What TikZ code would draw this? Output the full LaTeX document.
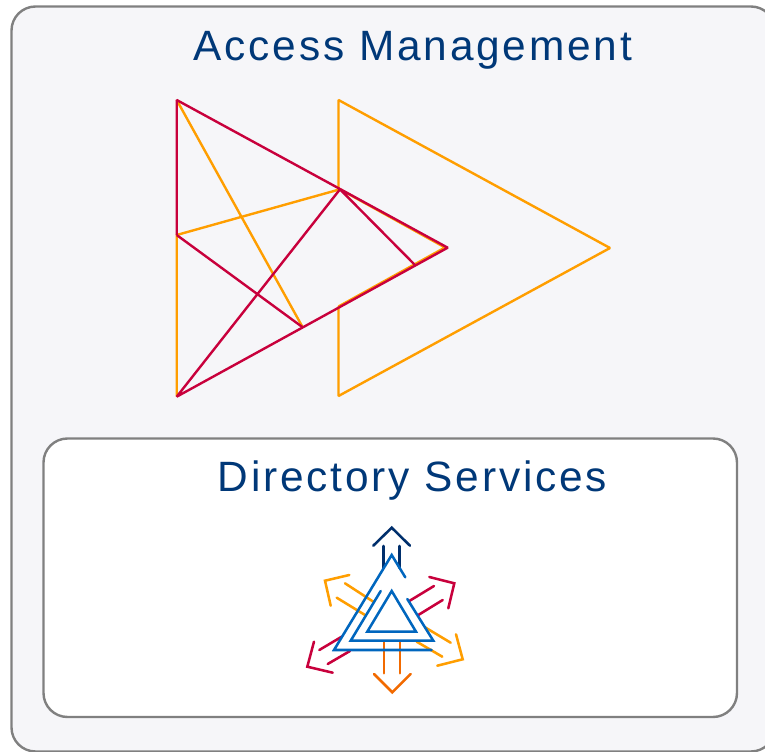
\documentclass[tikz,border=0pt]{standalone}
\usepackage{fontspec}
\setmainfont{Liberation Sans}
\newfontfamily\titlefont[LetterSpace=6.7]{Liberation Sans}
\definecolor{boxgrey}{RGB}{128,128,128}
\definecolor{panel}{RGB}{246,246,249}
\definecolor{titleblue}{RGB}{0,56,120}
\definecolor{ired}{RGB}{200,0,60}
\definecolor{iorange}{RGB}{255,158,0}
\definecolor{idark}{RGB}{242,106,0}
\definecolor{inavy}{RGB}{0,47,108}
\definecolor{iblue}{RGB}{0,102,190}
\begin{document}
\begin{tikzpicture}[x=.75pt,y=-.75pt,
                    mbox/.style = {draw=boxgrey,
                                   line width=1.8pt,
                                   rounded corners=18pt},
                    mtitle/.style = {text=titleblue,
                                     inner sep=0pt,
                                     font=\fontsize{31.8}{36}\titlefont},
                    rline/.style = {draw=ired, line width=1.8pt, line join=bevel},
                    oline/.style = {draw=iorange, line width=1.8pt, line join=bevel},
                    iline/.style = {line width=1.9pt, line cap=round, line join=miter}]
	\useasboundingbox (0,0) rectangle (765,752);
	\clip (0,0) rectangle (765,752);
	% boxes
	\path[mbox,fill=panel] (11.5,6.5) rectangle (775,751.5);
	\path[mbox,fill=white] (43.5,438.5) rectangle (737,717);
	\node[mtitle,anchor=base] (access) at (413,60.5) {Access Management};
	\node[mtitle,anchor=base] (directory) at (412.5,492) {Directory Services};
	% large triangles
	\coordinate (a) at (176.7,100);
	\coordinate (b) at (176.7,235);
	\coordinate (c) at (176.7,396.7);
	\coordinate (d) at (447.7,247.7);
	\coordinate (e) at (340,189.3);
	\coordinate (f) at (302.7,327.3);
	\coordinate (g) at (415,265);
	\coordinate (h) at (338.5,100);
	\coordinate (i) at (610,248);
	\coordinate (j) at (338.5,396);
	\coordinate (k) at (338.5,189.3);
	\coordinate (l) at (338.5,306.5);
	\coordinate (m) at (445,247.5);
	\draw[oline] (k) -- (h) -- (i) -- (j) -- (l);
	\draw[oline] (c) -- (b) -- (e) -- (m) -- (l);
	\draw[oline] (a) -- (f);
	\draw[rline] (b) -- (a) -- (d) -- (c) -- (e) -- (g);
	\draw[rline] (b) -- (f);
	% small icon
	\draw[iline,inavy] (373.3,545.7) -- (391.7,527.7) -- (410,545.7);
	\draw[iline,inavy] (383.3,546) -- (383.3,568);
	\draw[iline,inavy] (399.3,546) -- (399.3,568);
	\draw[iline,iorange] (349.3,575) -- (325,580.7) -- (330.7,605.7);
	\draw[iline,iorange] (345,583.3) -- (373.3,601.7);
	\draw[iline,iorange] (336.7,597.7) -- (365,615);
	\draw[iline,iorange] (425,627.3) -- (450.7,642.7);
	\draw[iline,iorange] (416.7,641.7) -- (442.3,656.7);
	\draw[iline,iorange] (456,634.3) -- (462.7,659.3) -- (437.3,665.7);
	\draw[iline,ired] (429.3,577) -- (454.3,583.3) -- (448.3,608.3);
	\draw[iline,ired] (434,586) -- (409.3,601);
	\draw[iline,ired] (442.7,600) -- (418.3,615);
	\draw[iline,ired] (314,641.7) -- (307.3,666.7) -- (332.7,672.7);
	\draw[iline,ired] (341.7,636.7) -- (319.3,650);
	\draw[iline,ired] (350,651) -- (327.7,664);
	\draw[iline,idark] (384,642) -- (384,673.3);
	\draw[iline,idark] (400,642) -- (400,673.3);
	\draw[iline,idark] (374,674) -- (392.3,692.3) -- (410.7,674);
	\draw[iline,iblue] (405.3,577.3) -- (391.7,555) -- (334,650) -- (431.7,650);
	\draw[iline,iblue] (380.7,591) -- (350.7,640.7) -- (433.3,640.7) -- (407.3,599);
	\draw[iline,iblue] (391.7,591) -- (367.3,631.7) -- (416,631.7) -- cycle;
\end{tikzpicture}
\end{document}
